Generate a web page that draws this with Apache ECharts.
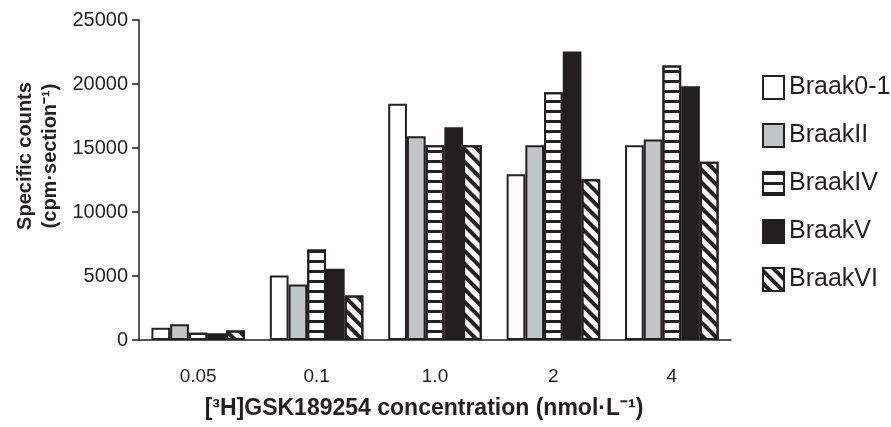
<!DOCTYPE html>
<html><head><meta charset="utf-8">
<script src="https://cdn.jsdelivr.net/npm/echarts@6/dist/echarts.min.js"></script>
<style>html,body{margin:0;padding:0;background:#fff}#c{width:891px;height:427px}</style>
</head><body><div id="c"></div>
<script>
var categories = ['0.05', '0.1', '1.0', '2', '4'];
var braak01 = [950, 5040, 18450, 12950, 15220];
var braakII = [1230, 4340, 15920, 15220, 15660];
var braakIV = [560, 7070, 15220, 19360, 21450];
var braakV = [520, 5560, 16630, 22540, 19830];
var braakVI = [740, 3480, 15220, 12560, 13920];
var seriesNames = ['Braak0-1', 'BraakII', 'BraakIV', 'BraakV', 'BraakVI'];
var yTicks = [0, 5000, 10000, 15000, 20000, 25000];

var ink = '#231f20';
var FONT = 'Liberation Sans, Arial, sans-serif';
var styles = [
  {color: '#ffffff', borderColor: ink, borderWidth: 2},
  {color: '#c3c4c6', borderColor: ink, borderWidth: 2},
  {color: '#ffffff', borderColor: ink, borderWidth: 2,
   decal: {symbol: 'rect', symbolSize: 1, dashArrayX: [1, 0], dashArrayY: [3, 7], rotation: 0, color: ink}},
  {color: ink, borderColor: ink, borderWidth: 2},
  {color: '#ffffff', borderColor: ink, borderWidth: 2,
   decal: {symbol: 'rect', symbolSize: 1, dashArrayX: [1, 0], dashArrayY: [4, 5], rotation: Math.PI / 4, color: ink}}
];
var dataArr = [braak01, braakII, braakIV, braakV, braakVI];

var chart = echarts.init(document.getElementById('c'));
chart.setOption({
  animation: false,
  aria: {enabled: false},
  grid: {left: 139, right: 160, top: 20, bottom: 87},
  legend: {
    orient: 'vertical', left: 757, top: 70,
    icon: 'rect',
    itemWidth: 21, itemHeight: 23, itemGap: 23,
    textStyle: {fontFamily: FONT, fontSize: 25, color: ink},
    data: seriesNames
  },
  xAxis: {
    type: 'category', data: categories,
    axisLine: {lineStyle: {color: ink, width: 1.5}},
    axisTick: {show: false},
    axisLabel: {fontFamily: FONT, fontSize: 19, color: ink, margin: 27}
  },
  yAxis: {
    type: 'value', min: yTicks[0], max: yTicks[yTicks.length - 1], interval: 5000,
    splitLine: {show: false},
    axisLine: {show: true, lineStyle: {color: ink, width: 1.5}},
    axisTick: {show: true, length: 7, lineStyle: {color: ink, width: 1.5}},
    axisLabel: {fontFamily: FONT, fontSize: 20, color: ink, margin: 11,
      formatter: function (v) { return String(v); }}
  },
  graphic: [
    {type: 'text', x: 25, y: 156, rotation: Math.PI / 2,
     style: {text: 'Specific counts', font: 'bold 20px ' + FONT, fill: ink, align: 'center', verticalAlign: 'middle'}},
    {type: 'text', x: 50, y: 156, rotation: Math.PI / 2,
     style: {text: '(cpm·section⁻¹)', font: 'bold 20px ' + FONT, fill: ink, align: 'center', verticalAlign: 'middle'}},
    {type: 'text', x: 424, y: 409,
     style: {text: '[³H]GSK189254 concentration (nmol·L⁻¹)', font: 'bold 23px ' + FONT, fill: ink, align: 'center', verticalAlign: 'middle'}}
  ],
  series: seriesNames.map(function (n, i) {
    return {
      name: n, type: 'bar', data: dataArr[i],
      barGap: '0%', barCategoryGap: '21%',
      itemStyle: styles[i]
    };
  })
});
</script></body></html>
